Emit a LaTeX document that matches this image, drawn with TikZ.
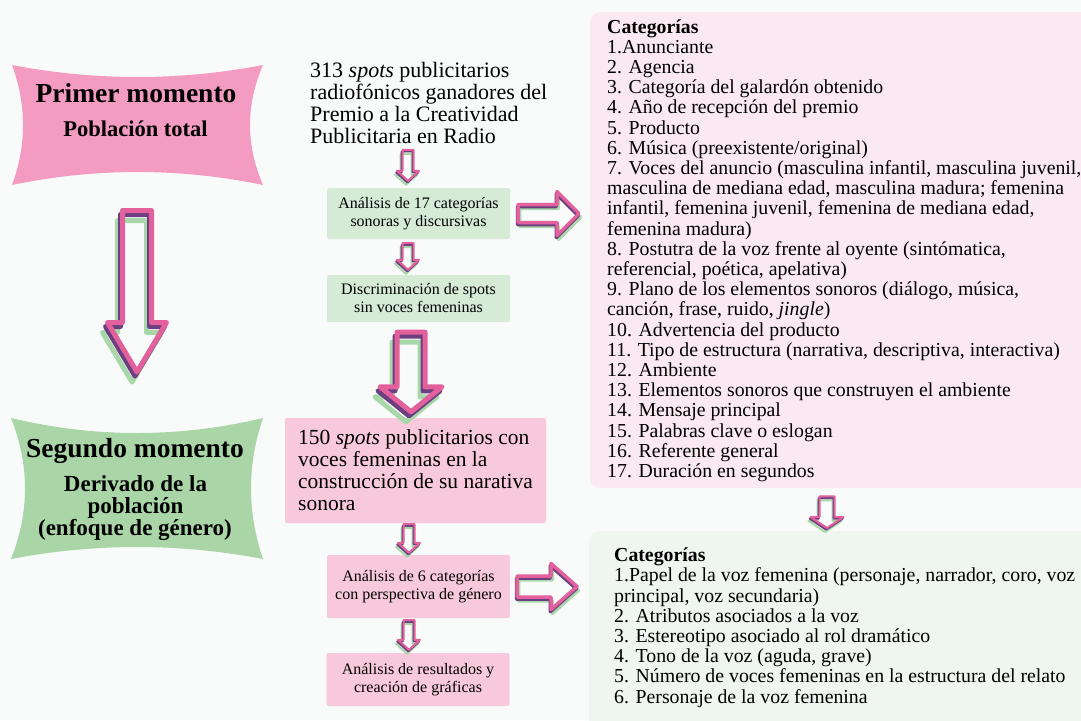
\documentclass[tikz,border=0pt]{standalone}
\usepackage{fontspec}
\setmainfont{Liberation Serif}
\usepackage{xcolor}
\usepackage{tikz}
\usetikzlibrary{calc}

\definecolor{bgcol}{HTML}{F9FBFA}
\definecolor{catpink}{HTML}{FBE9F1}
\definecolor{catgreen}{HTML}{EEF6EF}
\definecolor{boxgreen}{HTML}{D5EBD6}
\definecolor{boxpink}{HTML}{F8C9DC}
\definecolor{momentpink}{HTML}{F49BC2}
\definecolor{momentgreen}{HTML}{A9D5A7}
\definecolor{arrpink}{HTML}{E2619C}
\definecolor{arrpurple}{HTML}{6B3F80}
\definecolor{arrgreen}{HTML}{A8D8A9}

\tikzset{
  smallbox/.style={minimum width=183, align=center, inner sep=0pt, rounded corners=2pt, font=\fontsize{16}{18}\selectfont},
  catline/.style={anchor=base west, inner sep=0pt, font=\fontsize{19.8}{20}\selectfont},
  momenttext/.style={anchor=base, inner sep=0pt},
}

% hollow arrows, pink outline over purple and green shadows
\newcommand{\arrdown}[6]{%
  \foreach \ox/\oy/\colr in {-1/2/arrgreen,-0.4/0.8/arrpurple,0/0/arrpink}{
    \draw[\colr, line width=#6pt, line join=round]
      let \p1=(#1), \p2=(#2), \p3=(\ox*#6,\oy*#6) in
      (\x2-#3+\x3,\y1+\y3) -- (\x2+#3+\x3,\y1+\y3) -- (\x2+#3+\x3,\y2+#5+\y3) -- (\x2+#4+\x3,\y2+#5+\y3)
      -- (\x2+\x3,\y2+\y3) -- (\x2-#4+\x3,\y2+#5+\y3) -- (\x2-#3+\x3,\y2+#5+\y3) -- cycle;
  }
}
\newcommand{\arrright}[6]{%
  \foreach \ox/\oy/\colr in {0.4/1.1/arrgreen,-0.2/0.6/arrpurple,0/0/arrpink}{
    \draw[\colr, line width=#6pt, line join=round]
      let \p1=(#1), \p2=(#2), \p3=(\ox*#6,\oy*#6) in
      (\x1+\x3,\y2+#3+\y3) -- (\x2-#5+\x3,\y2+#3+\y3) -- (\x2-#5+\x3,\y2+#4+\y3) -- (\x2+\x3,\y2+\y3)
      -- (\x2-#5+\x3,\y2-#4+\y3) -- (\x2-#5+\x3,\y2-#3+\y3) -- (\x1+\x3,\y2-#3+\y3) -- cycle;
  }
}

\begin{document}
\begin{tikzpicture}[x=1pt,y=-1pt]
  % canvas
  \useasboundingbox (0,0) rectangle (1081,720);
  \fill[bgcol] (0,0) rectangle (1081,720);

  % first moment banner
  \fill[momentpink] (12,65) .. controls (95,81) and (180,81) .. (263,65)
    .. controls (245.7,105) and (245.7,145) .. (263,185)
    .. controls (180,167.7) and (95,167.7) .. (12,185)
    .. controls (26.7,145) and (26.7,105) .. (12,65) -- cycle;
  \node[momenttext, font=\fontsize{27.5}{30}\selectfont\bfseries] (primer) at (136,102.7) {Primer momento};
  \node[momenttext, font=\fontsize{22.5}{25}\selectfont\bfseries] (primersub) at (135.5,136.7) {Población total};

  % second moment banner
  \fill[momentgreen] (11,418) .. controls (95,438) and (179,438) .. (263,418)
    .. controls (247,465) and (247,512) .. (263,559)
    .. controls (179,543) and (95,543) .. (11,559)
    .. controls (29.7,512) and (29.7,465) .. (11,418) -- cycle;
  \node[momenttext, font=\fontsize{27.5}{30}\selectfont\bfseries] (segundo) at (135,457.3) {Segundo momento};
  \node[momenttext, font=\fontsize{23}{25}\selectfont\bfseries] (seg1) at (135.5,491) {Derivado de la};
  \node[momenttext, font=\fontsize{23}{25}\selectfont\bfseries] (seg2) at (135.5,513) {población};
  \node[momenttext, font=\fontsize{23}{25}\selectfont\bfseries] (seg3) at (135,535) {(enfoque de género)};

  % big arrow between the two moments
  \coordinate (bigtop) at (137,210.5);
  \coordinate (bigtip) at (137,372);
  \arrdown{bigtop}{bigtip}{14.5}{29.5}{49.5}{5}

  % middle column
  \node[anchor=north west, inner sep=0pt, align=left, font=\fontsize{22}{22}\selectfont] (intro) at (310,62)
    {313 \textit{spots} publicitarios\\radiofónicos ganadores del\\Premio a la Creatividad\\Publicitaria en Radio};
  \node[smallbox, fill=boxgreen, minimum height=51] (ana17) at (418.5,213.5) {Análisis de 17 categorías\\sonoras y discursivas};
  \node[smallbox, fill=boxgreen, minimum height=47] (discr) at (418.5,298.5) {Discriminación de spots\\sin voces femeninas};
  \node[fill=boxpink, minimum width=261, minimum height=105, inner sep=0pt, rounded corners=2pt, align=left,
    font=\fontsize{21.5}{22}\selectfont] (box150) at (415.5,470.5)
    {150 \textit{spots} publicitarios con\\voces femeninas en la\\construcción de su narativa\\sonora};
  \node[smallbox, fill=boxpink, minimum height=63] (ana6) at (418.5,586.5) {Análisis de 6 categorías\\con perspectiva de género};
  \node[smallbox, fill=boxpink, minimum height=53] (res) at (418,679.5) {Análisis de resultados y\\creación de gráficas};

  % arrows of the middle column
  \coordinate (a1s) at ($(intro.south)+(0,6)$);
  \coordinate (a1e) at ($(ana17.north)+(-10.5,-7)$);
  \coordinate (a2s) at ($(ana17.south)+(0,4)$);
  \coordinate (a2e) at ($(discr.north)+(-10.5,-5)$);
  \coordinate (a3s) at ($(discr.south)+(0,10)$);
  \coordinate (a3e) at ($(box150.north)+(-4.5,-6)$);
  \coordinate (a4s) at ($(box150.south)+(0,1)$);
  \coordinate (a4e) at ($(ana6.north)+(-9.5,-2)$);
  \coordinate (a5s) at ($(ana6.south)+(0,2)$);
  \coordinate (a5e) at ($(res.north)+(-9,-3)$);
  \arrdown{a1s}{a1e}{5.5}{11}{10}{2}
  \arrdown{a2s}{a2e}{5.5}{11}{10}{2}
  \arrdown{a3s}{a3e}{14}{31}{25}{5}
  \arrdown{a4s}{a4e}{5.5}{11}{10}{2}
  \arrdown{a5s}{a5e}{5.5}{11}{10}{2}

  % category boxes
  \node[fill=catpink, rounded corners=10pt, minimum width=530, minimum height=476, anchor=north west, inner sep=0pt] (catA) at (590,12) {};
  \node[fill=catgreen, rounded corners=10pt, minimum width=530, minimum height=210, anchor=north west, inner sep=0pt] (catB) at (589,531) {};

  % arrows towards and between the category boxes
  \coordinate (r1s) at ($(ana17.east)+(8,0)$);
  \coordinate (r1e) at ($(catA.west |- ana17.east)+(-11,0)$);
  \coordinate (r2s) at ($(ana6.east)+(7,0)$);
  \coordinate (r2e) at ($(catB.west |- ana6.east)+(-12,0)$);
  \arrright{r1s}{r1e}{9}{22}{22}{3.5}
  \arrright{r2s}{r2e}{10.5}{23}{26}{3.5}
  \coordinate (a6s) at ($(catA.south)+(0,8)$);
  \coordinate (a6e) at ($(catB.north west)+(238,-3)$);
  \arrdown{a6s}{a6e}{7.5}{16.5}{11}{2}

  % first list
  \foreach \t [count=\i from 0] in {{\textbf{Categorías}}, {1.Anunciante}, {2. Agencia},
    {3. Categoría del galardón obtenido}, {4. Año de recepción del premio}, {5. Producto},
    {6. Música (preexistente/original)}, {7. Voces del anuncio (masculina infantil, masculina juvenil,},
    {masculina de mediana edad, masculina madura; femenina}, {infantil, femenina juvenil, femenina de mediana edad,},
    {femenina madura)}, {8. Postutra de la voz frente al oyente (sintómatica,}, {referencial, poética, apelativa)},
    {9. Plano de los elementos sonoros (diálogo, música,}, {canción, frase, ruido, \textit{jingle})},
    {10. Advertencia del producto}, {11. Tipo de estructura (narrativa, descriptiva, interactiva)},
    {12. Ambiente}, {13. Elementos sonoros que construyen el ambiente}, {14. Mensaje principal},
    {15. Palabras clave o eslogan}, {16. Referente general}, {17. Duración en segundos}}
    \node[catline] (catA\i) at (607,33+20.2*\i) {\t};

  % second list
  \foreach \t [count=\i from 0] in {{\textbf{Categorías}}, {1.Papel de la voz femenina (personaje, narrador, coro, voz},
    {principal, voz secundaria)}, {2. Atributos asociados a la voz}, {3. Estereotipo asociado al rol dramático},
    {4. Tono de la voz (aguda, grave)}, {5. Número de voces femeninas en la estructura del relato},
    {6. Personaje de la voz femenina}}
    \node[catline] (catB\i) at (614,561.7+20.2*\i) {\t};
\end{tikzpicture}
\end{document}
